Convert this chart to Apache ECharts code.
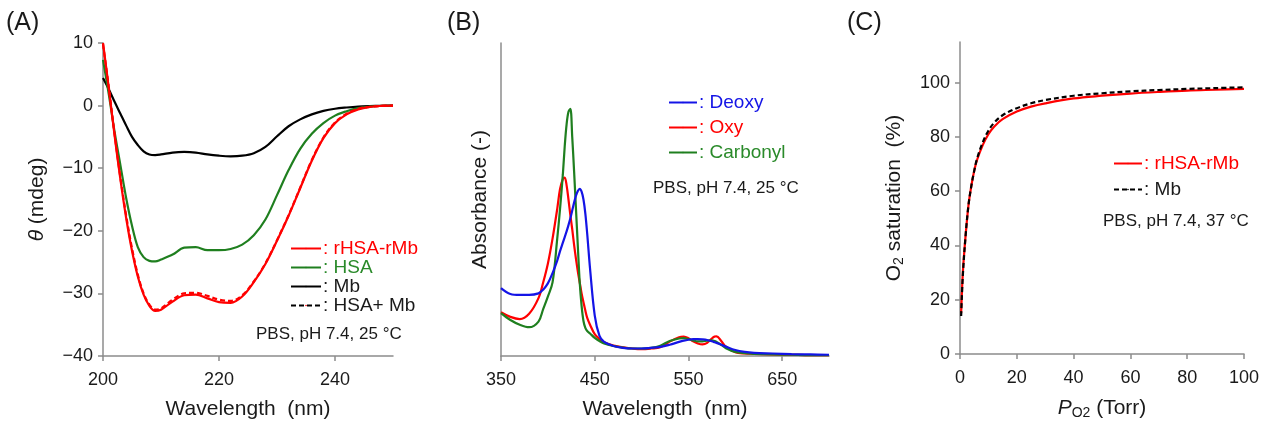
<!DOCTYPE html>
<html>
<head>
<meta charset="utf-8">
<script src="https://cdn.jsdelivr.net/npm/echarts@6/dist/echarts.min.js"></script>
<style>
html,body{margin:0;padding:0;background:#fff;}
#chart{width:1274px;height:425px;}
</style>
</head>
<body>
<div id="chart"></div>
<script>
// ---------- Panel A: CD spectra ----------
const cdWavelength = [200,201,202,203,204,205,206,207,208,209,210,212,214,216,218,220,222,224,226,228,230,232,234,236,238,240,242,244,246,248,250];
const cdRHSArMb = [10,2.8,-4.8,-11.8,-18,-23.2,-27.3,-30.2,-32,-32.8,-32.6,-31.3,-30.3,-30.2,-30.8,-31.4,-31.5,-30.5,-28.2,-25.3,-21.6,-17.6,-13.2,-8.8,-5.2,-2.8,-1.4,-0.6,-0.2,-0.05,0];
const cdHSA = [7.3,1.8,-4.2,-9.5,-14.8,-19.2,-22.6,-24.2,-24.8,-24.9,-24.6,-23.8,-22.7,-22.6,-23.1,-23.1,-22.9,-22.2,-20.7,-18.2,-14.3,-10.3,-6.9,-4.5,-2.8,-1.6,-0.9,-0.4,-0.15,-0.05,0];
const cdMb = [4.4,2.6,0.6,-1.3,-3.2,-5,-6.3,-7.3,-7.8,-7.9,-7.8,-7.5,-7.4,-7.5,-7.8,-8.0,-8.1,-8.0,-7.6,-6.6,-4.9,-3.3,-2.2,-1.4,-0.85,-0.5,-0.3,-0.15,-0.07,-0.02,0];
const cdHSAplusMb = [9.8,3.0,-4.6,-11.5,-17.6,-22.8,-27,-30,-31.8,-32.6,-32.4,-31,-30,-29.9,-30.4,-31,-31.2,-30.3,-28.1,-25.2,-21.5,-17.5,-13.1,-8.7,-5.1,-2.7,-1.3,-0.5,-0.2,-0.05,0];
const cdXTicks = [200,220,240];
const cdYTicks = [-40,-30,-20,-10,0,10];

// ---------- Panel B: UV-vis spectra ----------
const uvWavelength = [350,360,370,380,390,395,400,405,410,413,416,418,420,422,424,426,428,430,432,434,436,438,440,442,445,450,455,460,470,480,490,500,510,520,530,540,545,550,555,560,565,570,575,578,580,585,590,600,610,620,640,660,680,700];
const uvDeoxy = [0.217,0.198,0.195,0.195,0.2,0.212,0.232,0.265,0.305,0.335,0.362,0.38,0.398,0.418,0.44,0.465,0.49,0.512,0.527,0.534,0.525,0.5,0.455,0.39,0.28,0.13,0.065,0.045,0.032,0.026,0.024,0.024,0.026,0.029,0.036,0.045,0.049,0.052,0.054,0.054,0.053,0.051,0.047,0.044,0.042,0.036,0.03,0.019,0.013,0.01,0.008,0.006,0.005,0.004];
const uvOxy = [0.14,0.125,0.118,0.135,0.185,0.235,0.295,0.375,0.47,0.534,0.565,0.57,0.545,0.5,0.45,0.405,0.355,0.31,0.27,0.235,0.2,0.172,0.145,0.122,0.1,0.07,0.055,0.044,0.033,0.028,0.024,0.022,0.024,0.028,0.046,0.06,0.062,0.057,0.047,0.04,0.037,0.042,0.056,0.062,0.063,0.048,0.03,0.012,0.008,0.007,0.005,0.004,0.003,0.003];
const uvCarbonyl = [0.137,0.115,0.1,0.092,0.11,0.15,0.19,0.235,0.375,0.47,0.58,0.67,0.74,0.78,0.79,0.7,0.59,0.47,0.35,0.235,0.16,0.112,0.09,0.08,0.072,0.058,0.048,0.04,0.032,0.027,0.024,0.024,0.026,0.033,0.048,0.056,0.057,0.054,0.05,0.047,0.047,0.049,0.05,0.048,0.045,0.036,0.025,0.013,0.009,0.007,0.005,0.004,0.003,0.003];
const uvXTicks = [350,450,550,650];

// ---------- Panel C: O2 binding ----------
const po2 = [0.4,1,2,3,4,5,6,8,10,12,15,20,25,30,40,50,60,70,80,90,100];
const satRHSArMb = [15,30,44,55,62,67.5,71.5,77,81,83.8,86.6,89.4,91.2,92.4,94.2,95.2,96,96.6,97.1,97.4,97.7];
const satMb = [14,29,44,55,62,67.5,72,78,82.3,85.2,88,90.6,92.4,93.6,95.2,96.1,96.8,97.3,97.7,98,98.3];
const o2XTicks = [0,20,40,60,80,100];
const o2YTicks = [0,20,40,60,80,100];

const zip = (xs, ys) => xs.map((x, i) => [x, ys[i]]);

const FONT = "'Liberation Sans', Arial, sans-serif";
const AXIS_COLOR = '#8c8c8c';
const TXT = '#1a1a1a';
const RED = '#ff0000', GREEN = '#1f7f1f', BLUE = '#1414e6', BLACK = '#000000';
const LEG_GREEN = '#2a8a2a';

function ticks(values, extra) {
  return Object.assign({ show: true, inside: false, length: 5, lineStyle: { color: AXIS_COLOR, width: 1.5 }, customValues: values }, extra || {});
}
function labels(values, margin) {
  return { color: TXT, fontSize: 18, fontFamily: FONT, margin: margin, customValues: values,
    formatter: v => String(v).replace('-', '\u2212') };
}
function axisBase(extra) {
  return Object.assign({
    type: 'value',
    axisLine: { show: true, onZero: false, lineStyle: { color: AXIS_COLOR, width: 1.5 } },
    splitLine: { show: false },
    nameLocation: 'middle',
    nameTextStyle: { color: TXT, fontSize: 21, fontFamily: FONT }
  }, extra);
}

function line(name, xi, data, color, dashed) {
  return {
    type: 'line', name: name, xAxisIndex: xi, yAxisIndex: xi,
    data: data, smooth: 0.35, symbol: 'none', showSymbol: false,
    lineStyle: { color: color, width: 2.2, type: dashed ? [5, 3] : 'solid' },
    itemStyle: { color: color },
    z: dashed ? 3 : 2
  };
}

const stripName = n => ': ' + n.split('|')[1];
function legendBase(left, top, gap, width, items) {
  return { orient: 'vertical', left: left, top: top, padding: 0, itemWidth: width, itemHeight: 2, itemGap: gap,
    formatter: stripName,
    textStyle: { fontSize: 19, lineHeight: 19, fontFamily: FONT, padding: [0, 0, 0, -3] },
    data: items };
}

const option = {
  backgroundColor: '#ffffff',
  animation: false,
  textStyle: { fontFamily: FONT },
  grid: [
    { left: 103, top: 43, width: 290, height: 317 },
    { left: 501, top: 43, width: 328, height: 315 },
    { left: 960, top: 42, width: 284, height: 318 }
  ],
  xAxis: [
    axisBase({ gridIndex: 0, min: 200, max: 250, interval: 20,
      axisLabel: labels(cdXTicks, 15), axisTick: ticks(cdXTicks),
      name: 'Wavelength  (nm)', nameGap: 43 }),
    axisBase({ gridIndex: 1, min: 350, max: 700, interval: 100,
      axisLabel: labels(uvXTicks, 15), axisTick: ticks(uvXTicks),
      name: 'Wavelength  (nm)', nameGap: 43 }),
    axisBase({ gridIndex: 2, min: 0, max: 100, interval: 20,
      axisLabel: labels(o2XTicks, 15), axisTick: ticks(o2XTicks),
      name: '{i|P}{sub|O2} (Torr)', nameGap: 43,
      nameTextStyle: { color: TXT, fontSize: 21, fontFamily: FONT,
        rich: { i: { fontStyle: 'italic', fontSize: 21, fontFamily: FONT, color: TXT },
                sub: { fontSize: 14, verticalAlign: 'bottom', padding: [9, 0, 0, 0], fontFamily: FONT, color: TXT } } } })
  ],
  yAxis: [
    axisBase({ gridIndex: 0, min: -40, max: 10, interval: 10,
      axisLabel: labels(cdYTicks, 10), axisTick: ticks(cdYTicks),
      name: '{i|θ} (mdeg)', nameGap: 55,
      nameTextStyle: { color: TXT, fontSize: 21, fontFamily: FONT,
        rich: { i: { fontStyle: 'italic', fontSize: 21, fontFamily: FONT, color: TXT } } } }),
    axisBase({ gridIndex: 1, min: 0, max: 1,
      axisLabel: { show: false }, axisTick: { show: false },
      name: 'Absorbance (-)', nameGap: 10 }),
    axisBase({ gridIndex: 2, min: 0, max: 115, interval: 20,
      axisLabel: labels(o2YTicks, 10), axisTick: ticks(o2YTicks),
      name: 'O{sub|2} saturation  (%)', nameGap: 54,
      nameTextStyle: { color: TXT, fontSize: 21, fontFamily: FONT,
        rich: { sub: { fontSize: 14, verticalAlign: 'bottom', padding: [9, 0, 0, 0], fontFamily: FONT, color: TXT } } } })
  ],
  legend: [
    legendBase(290, 239, 0, 30, [
      { name: 'A|rHSA-rMb', textStyle: { color: RED } },
      { name: 'A|HSA', textStyle: { color: LEG_GREEN } },
      { name: 'A|Mb', textStyle: { color: TXT } },
      { name: 'A|HSA+ Mb', textStyle: { color: TXT }, lineStyle: { color: BLACK } }
    ]),
    legendBase(668, 93, 6, 28, [
      { name: 'B|Deoxy', textStyle: { color: BLUE } },
      { name: 'B|Oxy', textStyle: { color: RED } },
      { name: 'B|Carbonyl', textStyle: { color: LEG_GREEN } }
    ]),
    legendBase(1113, 154, 7, 28, [
      { name: 'C|rHSA-rMb', textStyle: { color: RED } },
      { name: 'C|Mb', textStyle: { color: TXT } }
    ])
  ],
  graphic: [
    { type: 'text', left: 6, top: 11, style: { text: '(A)', fontSize: 25, fontFamily: FONT, fill: TXT } },
    { type: 'text', left: 447, top: 11, style: { text: '(B)', fontSize: 25, fontFamily: FONT, fill: TXT } },
    { type: 'text', left: 847, top: 11, style: { text: '(C)', fontSize: 25, fontFamily: FONT, fill: TXT } },
    { type: 'text', left: 256, top: 326, style: { text: 'PBS, pH 7.4, 25 °C', fontSize: 17, fontFamily: FONT, fill: TXT } },
    { type: 'text', left: 653, top: 180, style: { text: 'PBS, pH 7.4, 25 °C', fontSize: 17, fontFamily: FONT, fill: TXT } },
    { type: 'text', left: 1103, top: 213, style: { text: 'PBS, pH 7.4, 37 °C', fontSize: 17, fontFamily: FONT, fill: TXT } }
  ],
  series: [
    line('A|Mb', 0, zip(cdWavelength, cdMb), BLACK, false),
    line('A|HSA', 0, zip(cdWavelength, cdHSA), GREEN, false),
    line('A|rHSA-rMb', 0, zip(cdWavelength, cdRHSArMb), RED, false),
    line('A|HSA+ Mb', 0, zip(cdWavelength, cdHSAplusMb), RED, true),
    line('B|Oxy', 1, zip(uvWavelength, uvOxy), RED, false),
    line('B|Carbonyl', 1, zip(uvWavelength, uvCarbonyl), GREEN, false),
    line('B|Deoxy', 1, zip(uvWavelength, uvDeoxy), BLUE, false),
    line('C|rHSA-rMb', 2, zip(po2, satRHSArMb), RED, false),
    line('C|Mb', 2, zip(po2, satMb), BLACK, true)
  ]
};

const chart = echarts.init(document.getElementById('chart'), null, { renderer: 'canvas' });
chart.setOption(option);
</script>
</body>
</html>
